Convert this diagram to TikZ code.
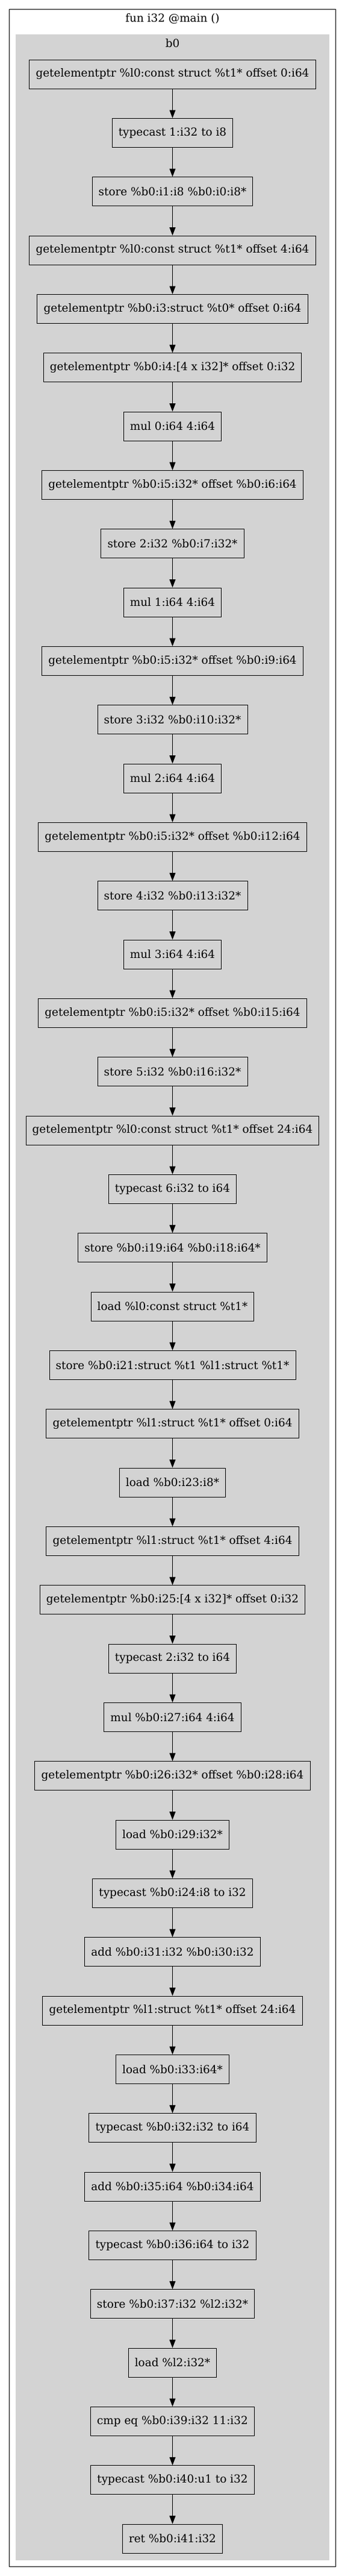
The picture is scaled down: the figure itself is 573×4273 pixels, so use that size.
\documentclass[tikz,border=0pt]{standalone}
\usepackage{fontspec}
\setmainfont{DejaVu Serif}
\usetikzlibrary{arrows.meta}
\definecolor{gvgray}{HTML}{D3D3D3}
\begin{document}
\begin{tikzpicture}[x=0.75pt,y=-0.75pt,
  instr/.style={draw=black, line width=0.75pt, fill=gvgray, inner xsep=8pt, inner ysep=0pt,
    minimum height=36pt, font=\fontsize{13.8}{16}\selectfont},
  lbl/.style={inner sep=0pt, font=\fontsize{13.8}{16}\selectfont},
  flow/.style={line width=0.75pt, -{Triangle[length=10pt,width=7.5pt]}},
  frame/.style={draw=black, line width=0.75pt, fill=white},
  cluster/.style={fill=gvgray}]
\useasboundingbox (0,0) rectangle (573,4273);
\fill[white] (0,0) rectangle (573,4273);
\draw[frame] (15.5,15.5) rectangle (557,4257);
\fill[cluster] (26,57) rectangle (547,4247);
\node[lbl] (title) at (286.5,31) {fun i32 @main ()};
\node[lbl] (blk) at (286.5,72) {b0};
\node[instr] (n0) at (286.5,123) {getelementptr \%l0:const struct \%t1* offset 0:i64};
\node[instr] (n1) at (286.5,220.33) {typecast 1:i32 to i8};
\node[instr] (n2) at (286.5,317.67) {store \%b0:i1:i8 \%b0:i0:i8*};
\node[instr] (n3) at (286.5,415) {getelementptr \%l0:const struct \%t1* offset 4:i64};
\node[instr] (n4) at (286.5,512.33) {getelementptr \%b0:i3:struct \%t0* offset 0:i64};
\node[instr] (n5) at (286.5,609.67) {getelementptr \%b0:i4:[4 x i32]* offset 0:i32};
\node[instr] (n6) at (286.5,707) {mul 0:i64 4:i64};
\node[instr] (n7) at (286.5,804.33) {getelementptr \%b0:i5:i32* offset \%b0:i6:i64};
\node[instr] (n8) at (286.5,901.67) {store 2:i32 \%b0:i7:i32*};
\node[instr] (n9) at (286.5,999) {mul 1:i64 4:i64};
\node[instr] (n10) at (286.5,1096.33) {getelementptr \%b0:i5:i32* offset \%b0:i9:i64};
\node[instr] (n11) at (286.5,1193.67) {store 3:i32 \%b0:i10:i32*};
\node[instr] (n12) at (286.5,1291) {mul 2:i64 4:i64};
\node[instr] (n13) at (286.5,1388.33) {getelementptr \%b0:i5:i32* offset \%b0:i12:i64};
\node[instr] (n14) at (286.5,1485.67) {store 4:i32 \%b0:i13:i32*};
\node[instr] (n15) at (286.5,1583) {mul 3:i64 4:i64};
\node[instr] (n16) at (286.5,1680.33) {getelementptr \%b0:i5:i32* offset \%b0:i15:i64};
\node[instr] (n17) at (286.5,1777.67) {store 5:i32 \%b0:i16:i32*};
\node[instr] (n18) at (286.5,1875) {getelementptr \%l0:const struct \%t1* offset 24:i64};
\node[instr] (n19) at (286.5,1972.33) {typecast 6:i32 to i64};
\node[instr] (n20) at (286.5,2069.67) {store \%b0:i19:i64 \%b0:i18:i64*};
\node[instr] (n21) at (286.5,2167) {load \%l0:const struct \%t1*};
\node[instr] (n22) at (286.5,2264.33) {store \%b0:i21:struct \%t1 \%l1:struct \%t1*};
\node[instr] (n23) at (286.5,2361.67) {getelementptr \%l1:struct \%t1* offset 0:i64};
\node[instr] (n24) at (286.5,2459) {load \%b0:i23:i8*};
\node[instr] (n25) at (286.5,2556.33) {getelementptr \%l1:struct \%t1* offset 4:i64};
\node[instr] (n26) at (286.5,2653.67) {getelementptr \%b0:i25:[4 x i32]* offset 0:i32};
\node[instr] (n27) at (286.5,2751) {typecast 2:i32 to i64};
\node[instr] (n28) at (286.5,2848.33) {mul \%b0:i27:i64 4:i64};
\node[instr] (n29) at (286.5,2945.67) {getelementptr \%b0:i26:i32* offset \%b0:i28:i64};
\node[instr] (n30) at (286.5,3043) {load \%b0:i29:i32*};
\node[instr] (n31) at (286.5,3140.33) {typecast \%b0:i24:i8 to i32};
\node[instr] (n32) at (286.5,3237.67) {add \%b0:i31:i32 \%b0:i30:i32};
\node[instr] (n33) at (286.5,3335) {getelementptr \%l1:struct \%t1* offset 24:i64};
\node[instr] (n34) at (286.5,3432.33) {load \%b0:i33:i64*};
\node[instr] (n35) at (286.5,3529.67) {typecast \%b0:i32:i32 to i64};
\node[instr] (n36) at (286.5,3627) {add \%b0:i35:i64 \%b0:i34:i64};
\node[instr] (n37) at (286.5,3724.33) {typecast \%b0:i36:i64 to i32};
\node[instr] (n38) at (286.5,3821.67) {store \%b0:i37:i32 \%l2:i32*};
\node[instr] (n39) at (286.5,3919) {load \%l2:i32*};
\node[instr] (n40) at (286.5,4016.33) {cmp eq \%b0:i39:i32 11:i32};
\node[instr] (n41) at (286.5,4113.67) {typecast \%b0:i40:u1 to i32};
\node[instr] (n42) at (286.5,4211) {ret \%b0:i41:i32};
\foreach \i in {0,...,41}{
  \pgfmathtruncatemacro{\j}{\i+1}
  \draw[flow] (n\i.south) -- (n\j.north);
}
\end{tikzpicture}
\end{document}
